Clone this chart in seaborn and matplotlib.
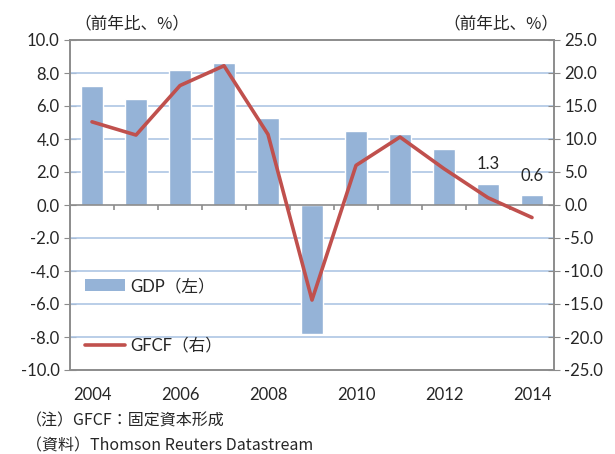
import numpy as np
import pandas as pd
import seaborn as sns
import matplotlib.pyplot as plt
from matplotlib.lines import Line2D
from matplotlib.patches import Patch

# data
years = ["2004", "2005", "2006", "2007", "2008", "2009", "2010", "2011", "2012", "2013", "2014"]
gdp = [7.2, 6.4, 8.2, 8.6, 5.3, -7.8, 4.5, 4.3, 3.4, 1.3, 0.6]
gfcf = [12.6, 10.6, 18.1, 21.1, 10.7, -14.4, 6.0, 10.3, 5.5, 1.1, -1.9]
left_ticks = np.arange(-10, 10.1, 2)
right_ticks = np.arange(-25, 25.1, 5)

sns.set_style("white")
plt.rcParams["font.family"] = ["Lato", "Noto Sans CJK JP", "DejaVu Sans"]
cjk = ["Noto Sans CJK JP", "DejaVu Sans"]

bar_color = "#95b3d7"
line_color = "#c0504d"
frame_color = "#8c8c8c"
fs = 12

df = pd.DataFrame({"year": years, "gdp": gdp, "gfcf": gfcf})

fig = plt.figure(figsize=(6.15, 4.54), dpi=100)
ax = fig.add_axes([70 / 615, 84 / 454, 484 / 615, 330 / 454])

sns.barplot(data=df, x="year", y="gdp", color=bar_color, saturation=1,
            width=0.5, ax=ax, zorder=2)
ax.set_ylim(-10, 10)
ax.set_xlim(-0.5, len(years) - 0.5)
ax.set_yticks(left_ticks)
ax.set_yticklabels([f"{v:.1f}" for v in left_ticks], fontsize=fs)
for v in left_ticks[1:-1]:
    if v != 0:
        ax.axhline(v, color="#aec6e4", lw=1.2, zorder=1)
ax.axhline(0, color=frame_color, lw=1.2, zorder=3)
ax.vlines(np.arange(len(years) - 1) + 0.5, -0.3, 0, color=frame_color, lw=1.2, zorder=3)

ax.set_xticks(range(0, len(years), 2))
ax.set_xticklabels(years[::2], fontsize=fs)
ax.tick_params(axis="x", length=0, pad=12)
ax.tick_params(axis="y", length=9, direction="inout", color=frame_color, pad=3)
ax.set_xlabel("")
ax.set_ylabel("")
for s in ax.spines.values():
    s.set_color(frame_color)
    s.set_linewidth(1.2)

for i in (9, 10):
    ax.text(i, gdp[i] + 0.7, f"{gdp[i]:.1f}", ha="center", va="bottom", fontsize=fs)

ax2 = ax.twinx()
sns.lineplot(data=df, x="year", y="gfcf", color=line_color, lw=2.6, ax=ax2, zorder=4)
ax2.set_ylim(-25, 25)
ax2.set_yticks(right_ticks)
ax2.set_yticklabels([f"{v:.1f}" for v in right_ticks], fontsize=fs)
ax2.tick_params(axis="y", length=9, direction="inout", color=frame_color, pad=3)
ax2.set_ylabel("")
ax2.set_xlabel("")
for s in ax2.spines.values():
    s.set_color(frame_color)
    s.set_linewidth(1.2)

handles = [Patch(facecolor=bar_color, edgecolor="none"),
           Line2D([], [], color=line_color, lw=2.6)]
ax2.legend(handles, ["GDP（左）", "GFCF（右）"], loc="lower left",
           bbox_to_anchor=(0.0, 0.005), frameon=False, fontsize=fs,
           handlelength=2.4, handleheight=0.7, labelspacing=2.6, handletextpad=0.3)

fig.text(74 / 615, 1 - 24 / 454, "（前年比、%）", fontsize=12, va="center", ha="left", family=cjk)
fig.text(558 / 615, 1 - 24 / 454, "（前年比、%）", fontsize=12, va="center", ha="right", family=cjk)
fig.text(26 / 615, 1 - 421 / 454, "（注）GFCF：固定資本形成", fontsize=11.5, va="center", ha="left", family=cjk)
fig.text(26 / 615, 1 - 446 / 454, "（資料）Thomson Reuters Datastream", fontsize=11.5, va="center", ha="left", family=cjk)

fig.savefig("out.png", dpi=100)
